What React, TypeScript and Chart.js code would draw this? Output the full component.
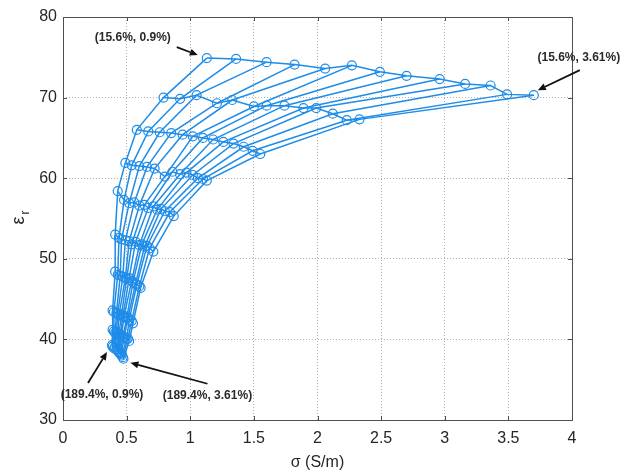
import React, { useEffect, useRef } from "react";
import { Chart, registerables } from "chart.js";

Chart.register(...registerables);

// Each row = one water content (top 15.6% ... bottom 189.4%),
// 13 points per row = salinity from 0.9% (left) to 3.61% (right). [sigma S/m, eps_r]
const row1: [number, number][] = [
  [1.13, 74.9], [1.36, 74.8], [1.6, 74.4], [1.82, 74.1], [2.06, 73.6], [2.27, 74.0], [2.49, 73.2],
  [2.7, 72.7], [2.96, 72.3], [3.16, 71.7], [3.36, 71.5], [3.49, 70.4], [3.7, 70.3],
];
const row2: [number, number][] = [
  [0.79, 70.0], [0.92, 69.85], [1.05, 70.3], [1.21, 69.3], [1.33, 69.7], [1.5, 68.9], [1.6, 69.0],
  [1.74, 69.0], [1.89, 68.7], [1.99, 68.7], [2.12, 68.0], [2.23, 67.2], [2.33, 67.3],
];
const row3: [number, number][] = [
  [0.58, 66.0], [0.67, 65.8], [0.76, 65.7], [0.85, 65.6], [0.94, 65.4], [1.02, 65.2], [1.1, 65.0],
  [1.18, 64.8], [1.26, 64.5], [1.34, 64.3], [1.42, 63.9], [1.49, 63.4], [1.55, 63.0],
];
const row4: [number, number][] = [
  [0.49, 61.9], [0.54, 61.6], [0.6, 61.5], [0.66, 61.4], [0.72, 61.2], [0.8, 60.2], [0.86, 60.8],
  [0.92, 60.5], [0.97, 60.7], [1.02, 60.4], [1.06, 60.0], [1.1, 59.9], [1.13, 59.7],
];
const row5: [number, number][] = [
  [0.43, 58.4], [0.48, 57.3], [0.52, 56.9], [0.56, 57.0], [0.6, 56.6], [0.64, 56.7], [0.67, 56.3],
  [0.71, 56.5], [0.74, 56.1], [0.77, 56.2], [0.8, 55.9], [0.84, 55.8], [0.87, 55.3],
];
const row6: [number, number][] = [
  [0.41, 53.0], [0.44, 52.6], [0.46, 52.4], [0.49, 52.3], [0.52, 52.2], [0.54, 51.8], [0.57, 52.1],
  [0.6, 51.7], [0.62, 51.8], [0.64, 51.5], [0.66, 51.6], [0.68, 51.3], [0.71, 50.9],
];
const row7: [number, number][] = [
  [0.41, 48.4], [0.43, 48.0], [0.45, 47.9], [0.47, 47.8], [0.49, 47.6], [0.5, 47.5], [0.52, 47.6],
  [0.54, 47.3], [0.55, 47.1], [0.57, 46.9], [0.58, 46.8], [0.6, 46.6], [0.61, 46.4],
];
const row8: [number, number][] = [
  [0.39, 43.6], [0.4, 43.4], [0.42, 43.3], [0.43, 43.2], [0.44, 43.0], [0.46, 43.1], [0.47, 42.8],
  [0.48, 42.9], [0.5, 42.6], [0.51, 42.7], [0.52, 42.4], [0.54, 42.3], [0.55, 42.0],
];
const row9: [number, number][] = [
  [0.39, 41.2], [0.4, 41.0], [0.41, 40.8], [0.42, 40.9], [0.43, 40.6], [0.44, 40.7], [0.45, 40.4],
  [0.46, 40.5], [0.47, 40.2], [0.48, 40.3], [0.5, 40.0], [0.51, 40.1], [0.52, 39.8],
];
const row10: [number, number][] = [
  [0.385, 39.3], [0.39, 39.1], [0.4, 38.9], [0.41, 39.0], [0.42, 38.7], [0.43, 38.8], [0.44, 38.5],
  [0.44, 38.4], [0.45, 38.2], [0.46, 38.3], [0.46, 38.0], [0.47, 37.8], [0.475, 37.6],
];

const rows = [row1, row2, row3, row4, row5, row6, row7, row8, row9, row10];

const xTicks = [0, 0.5, 1, 1.5, 2, 2.5, 3, 3.5, 4];
const yTicks = [30, 40, 50, 60, 70, 80];

const xTitle = "σ (S/m)";
const yTitleMain = "ε";
const yTitleSub = "r";

// annotation labels anchored to data points
const annotations = [
  { text: "(15.6%, 0.9%)", anchor: row1[0] },
  { text: "(15.6%, 3.61%)", anchor: row1[12] },
  { text: "(189.4%, 0.9%)", anchor: row10[0] },
  { text: "(189.4%, 3.61%)", anchor: row10[12] },
];
// pixel offsets relative to anchor: arrow tip, arrow tail, text centre
const annotationOffsets = [
  { tip: [-9, -3], tail: [-30, -11], text: [-74, -20] },
  { tip: [4, -5], tail: [46, -25], text: [45, -37] },
  { tip: [-5, 7], tail: [-24, 38], text: [-10, 50] },
  { tip: [7, 4], tail: [84, 25], text: [84, 37] },
];

const COLOR = "rgb(30,140,232)";
const FONT = "'Liberation Sans', Arial, sans-serif";

const overlay = {
  id: "overlay",
  afterDraw(chart: any) {
    const { ctx, chartArea: a, scales } = chart;
    const x = scales.x;
    const y = scales.y;
    ctx.save();
    // box
    ctx.strokeStyle = "#505050";
    ctx.lineWidth = 1;
    ctx.setLineDash([]);
    ctx.strokeRect(Math.round(a.left) + 0.5, Math.round(a.top) + 0.5, Math.round(a.right - a.left), Math.round(a.bottom - a.top));
    // inward ticks
    ctx.beginPath();
    for (const t of xTicks) {
      const px = Math.round(x.getPixelForValue(t)) + 0.5;
      ctx.moveTo(px, a.bottom);
      ctx.lineTo(px, a.bottom - 4);
      ctx.moveTo(px, a.top);
      ctx.lineTo(px, a.top + 4);
    }
    for (const t of yTicks) {
      const py = Math.round(y.getPixelForValue(t)) + 0.5;
      ctx.moveTo(a.left, py);
      ctx.lineTo(a.left + 4, py);
      ctx.moveTo(a.right, py);
      ctx.lineTo(a.right - 4, py);
    }
    ctx.stroke();

    // annotations
    annotations.forEach((an, i) => {
      const off = annotationOffsets[i];
      const px = x.getPixelForValue(an.anchor[0]);
      const py = y.getPixelForValue(an.anchor[1]);
      const tx = px + off.tip[0], ty = py + off.tip[1];
      const sx = px + off.tail[0], sy = py + off.tail[1];
      const ang = Math.atan2(ty - sy, tx - sx);
      const hl = 8, hw = 3.5;
      const bx = tx - hl * Math.cos(ang), by = ty - hl * Math.sin(ang);
      ctx.strokeStyle = "#111";
      ctx.fillStyle = "#111";
      ctx.lineWidth = 1.8;
      ctx.beginPath();
      ctx.moveTo(sx, sy);
      ctx.lineTo(bx, by);
      ctx.stroke();
      ctx.beginPath();
      ctx.moveTo(tx, ty);
      ctx.lineTo(bx + hw * Math.sin(ang), by - hw * Math.cos(ang));
      ctx.lineTo(bx - hw * Math.sin(ang), by + hw * Math.cos(ang));
      ctx.closePath();
      ctx.fill();
      ctx.fillStyle = "#2a2a2a";
      ctx.font = `bold 12px ${FONT}`;
      ctx.textAlign = "center";
      ctx.textBaseline = "middle";
      ctx.fillText(an.text, px + off.text[0], py + off.text[1]);
    });

    // x title
    ctx.fillStyle = "#262626";
    ctx.font = `16px ${FONT}`;
    ctx.textAlign = "center";
    ctx.textBaseline = "middle";
    ctx.fillText(xTitle, (a.left + a.right) / 2, 463);

    // y title (rotated, with subscript)
    ctx.save();
    ctx.translate(19, (a.top + a.bottom) / 2);
    ctx.rotate(-Math.PI / 2);
    ctx.font = `18px ${FONT}`;
    ctx.textAlign = "center";
    ctx.textBaseline = "middle";
    ctx.fillText(yTitleMain, -2, 0);
    ctx.font = `12px ${FONT}`;
    ctx.fillText(yTitleSub, 6, 7);
    ctx.restore();

    ctx.restore();
  },
};

export default function App() {
  const ref = useRef<HTMLCanvasElement>(null);
  useEffect(() => {
    if (!ref.current) return;
    const rowSets = rows.map((r, i) => ({
      label: `row${i + 1}`,
      data: r.map(([sx, ey]) => ({ x: sx, y: ey })),
      showLine: true,
      borderColor: COLOR,
      backgroundColor: "rgba(0,0,0,0)",
      borderWidth: 1.5,
      pointRadius: 4.5,
      pointBorderWidth: 1.2,
      pointBorderColor: COLOR,
      pointBackgroundColor: "rgba(0,0,0,0)",
      tension: 0,
    }));
    const colSets = row1.map((_, j) => ({
      label: `col${j + 1}`,
      data: rows.map((r) => ({ x: r[j][0], y: r[j][1] })),
      showLine: true,
      borderColor: COLOR,
      backgroundColor: "rgba(0,0,0,0)",
      borderWidth: 1.5,
      pointRadius: 0,
      tension: 0,
    }));
    const chart = new Chart(ref.current, {
      type: "scatter",
      data: { datasets: [...colSets, ...rowSets] as any },
      options: {
        animation: false,
        responsive: false,
        maintainAspectRatio: false,
        events: [],
        layout: { padding: { top: 17, right: 51, left: 0, bottom: 0 } },
        plugins: { legend: { display: false }, tooltip: { enabled: false } },
        scales: {
          x: {
            type: "linear",
            min: 0,
            max: 4,
            afterBuildTicks: (s: any) => {
              s.ticks = xTicks.map((v) => ({ value: v }));
            },
            afterFit: (s: any) => {
              s.height = 52;
            },
            ticks: {
              color: "#262626",
              font: { family: FONT, size: 16 },
              padding: 9,
              maxRotation: 0,
              autoSkip: false,
              callback: (v: any) => String(v),
            },
            grid: { color: "#b0b0b0", lineWidth: 1, drawTicks: false },
            border: { display: false, dash: [1, 2] },
          },
          y: {
            type: "linear",
            min: 30,
            max: 80,
            afterBuildTicks: (s: any) => {
              s.ticks = yTicks.map((v) => ({ value: v }));
            },
            afterFit: (s: any) => {
              s.width = 63;
            },
            ticks: {
              color: "#262626",
              font: { family: FONT, size: 16 },
              padding: 6,
              autoSkip: false,
              callback: (v: any) => String(v),
            },
            grid: { color: "#b0b0b0", lineWidth: 1, drawTicks: false },
            border: { display: false, dash: [1, 2] },
          },
        },
      },
      plugins: [overlay],
    });
    return () => chart.destroy();
  }, []);
  return (
    <div style={{ position: "absolute", left: 0, top: 0, width: 623, height: 472, background: "#fff" }}>
      <canvas ref={ref} width={623} height={472} style={{ display: "block" }} />
    </div>
  );
}
